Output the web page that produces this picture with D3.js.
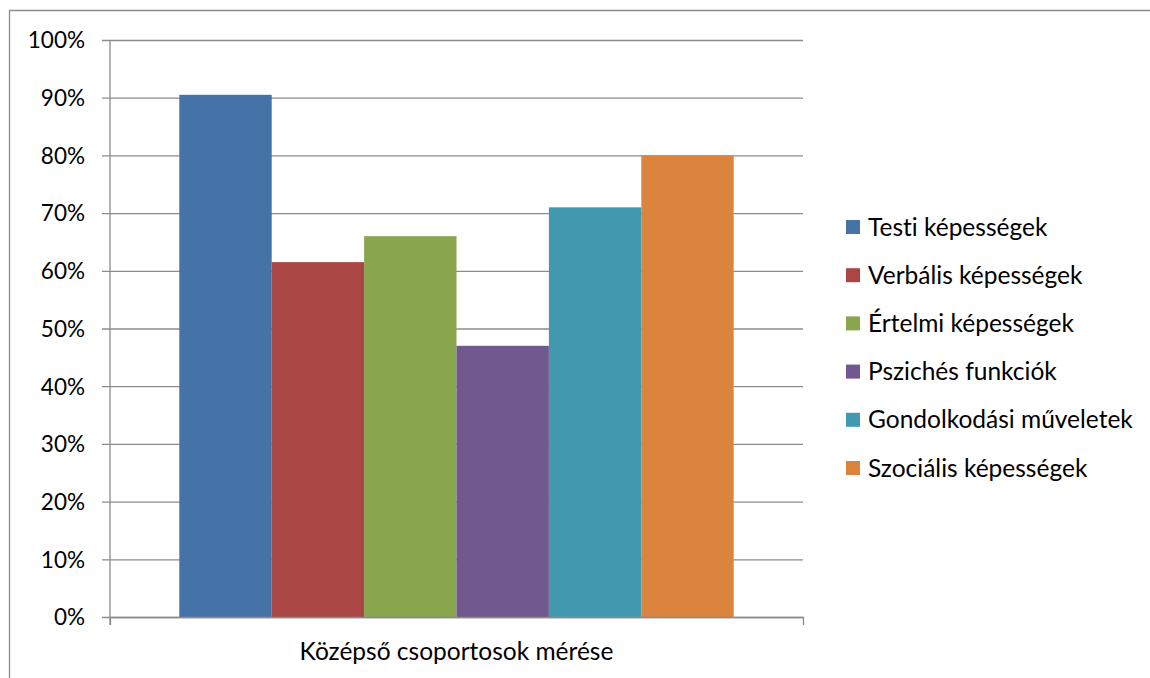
<!DOCTYPE html>
<html>
<head>
<meta charset="utf-8">
<script src="https://cdn.jsdelivr.net/npm/d3@7"></script>
<style>
  body { margin: 0; background: #fff; }
  text { font-family: Lato, "Open Sans", sans-serif; fill: #000; font-variant-ligatures: none; }
</style>
</head>
<body>
<svg width="1150" height="678"></svg>
<script>
// Data
const categoryLabel = "Középső csoportosok mérése";
const seriesNames = ["Testi képességek", "Verbális képességek", "Értelmi képességek",
                     "Pszichés funkciók", "Gondolkodási műveletek", "Szociális képességek"];
const seriesValues = [90.5, 61.5, 66, 47, 71, 80];
const seriesColors = ["#4572A7", "#AA4643", "#89A54E", "#71588F", "#4198AF", "#DB843D"];
const yTicks = [0, 10, 20, 30, 40, 50, 60, 70, 80, 90, 100];

const svg = d3.select("svg");
const GRID = "#8c8c8c";

// Outer chart frame (cropped on right and bottom)
svg.append("path")
    .attr("d", "M9.5,678 L9.5,10.5 L1150,10.5")
    .attr("fill", "none")
    .attr("stroke", GRID)
    .attr("stroke-width", 1.3);

const plot = { left: 110, right: 803, top: 40, bottom: 617 };

const y = d3.scaleLinear().domain([0, 100]).range([plot.bottom, plot.top]);
const xGroup = d3.scaleBand().domain([categoryLabel]).range([plot.left, plot.right]);
// gap width 150% -> series occupy 80% of category
const x = d3.scaleBand().domain(seriesNames)
    .range([xGroup(categoryLabel) + xGroup.bandwidth() * 0.1, xGroup(categoryLabel) + xGroup.bandwidth() * 0.9]);

// Gridlines + y ticks
const yAxis = d3.axisLeft(y)
    .tickValues(yTicks)
    .tickSize(-(plot.right - plot.left))
    .tickFormat(d => d + "%");

const gy = svg.append("g")
    .attr("transform", `translate(${plot.left},0)`)
    .call(yAxis);
gy.select(".domain").remove();
gy.selectAll(".tick line")
    .attr("x1", -8)
    .attr("stroke", GRID)
    .attr("stroke-width", 1.3);
gy.selectAll(".tick text")
    .attr("x", -25)
    .attr("dy", "0.35em")
    .attr("font-size", 22.5)
    .style("font-family", "Lato, sans-serif");

// Vertical axis line
svg.append("line")
    .attr("x1", plot.left).attr("x2", plot.left)
    .attr("y1", plot.top).attr("y2", plot.bottom + 8)
    .attr("stroke", GRID).attr("stroke-width", 1.3);

// Bars
svg.append("g")
    .selectAll("rect")
    .data(seriesNames)
    .enter().append("rect")
    .attr("x", d => x(d))
    .attr("width", x.bandwidth())
    .attr("y", (d, i) => y(seriesValues[i]))
    .attr("height", (d, i) => y(0) - y(seriesValues[i]))
    .attr("fill", (d, i) => seriesColors[i]);

// Category axis
const gx = svg.append("g")
    .attr("transform", `translate(0,${plot.bottom})`)
    .call(d3.axisBottom(xGroup).tickSize(0).tickSizeOuter(8));
gx.select(".domain")
    .attr("stroke", GRID)
    .attr("stroke-width", 1.3);
gx.selectAll(".tick text")
    .attr("dy", 0)
    .attr("y", 43)
    .attr("font-size", 24.5)
    .style("font-family", "Lato, sans-serif");

// Legend
const legend = svg.append("g")
    .attr("transform", "translate(846,227)");
const item = legend.selectAll("g")
    .data(seriesNames)
    .enter().append("g")
    .attr("transform", (d, i) => `translate(0,${i * 48.2})`);
item.append("rect")
    .attr("x", 0).attr("y", -7)
    .attr("width", 14).attr("height", 14)
    .attr("fill", (d, i) => seriesColors[i]);
item.append("text")
    .attr("x", 22)
    .attr("dy", "0.35em")
    .attr("font-size", 24.5)
    .text(d => d);
</script>
</body>
</html>
